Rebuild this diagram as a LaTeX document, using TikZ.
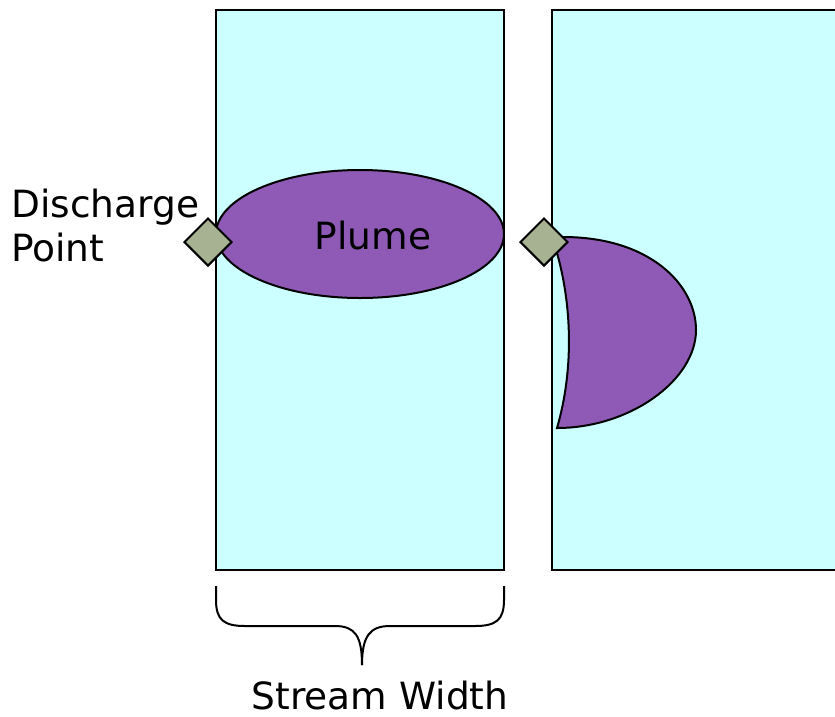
\documentclass[tikz,border=0pt]{standalone}
\usepackage{fontspec}
\setmainfont{DejaVu Sans}
\usetikzlibrary{shapes.geometric}
\definecolor{water}{RGB}{204,255,255}
\definecolor{plume}{RGB}{142,90,181}
\definecolor{outfall}{RGB}{166,178,145}
\tikzset{
  stream/.style={draw=black, fill=water, line width=2pt},
  plumeshape/.style={draw=black, fill=plume, line width=2pt},
  outlet/.style={shape=diamond, draw=black, fill=outfall, line width=2pt, minimum width=48pt, minimum height=48pt, inner sep=0pt},
  label/.style={font=\fontsize{37.5}{44}\selectfont, inner sep=0pt},
}
\begin{document}
\begin{tikzpicture}[x=1pt,y=-1pt]
\useasboundingbox (0,0) rectangle (835,716);
\clip (0,0) rectangle (835,716);
% streams
\draw[stream] (216,10) rectangle (504,570);
\draw[stream] (552,10) rectangle (845,570);
% left plume
\node[plumeshape, shape=ellipse, minimum width=288pt, minimum height=128pt, inner sep=0pt] (plumeL) at (360,234) {};
\node[label] (plumetext) at (373,236) {Plume};
% right plume
\draw[plumeshape] (553,240) -- (563,237)
  .. controls (650,237) and (696,285) .. (696,330)
  .. controls (696,380) and (630,428) .. (557,428)
  .. controls (574,370) and (573,300) .. (553,240) -- cycle;
% outlets
\node[outlet] (outL) at (208,242) {};
\node[outlet] (outR) at (544,242) {};
% discharge label
\node[label, anchor=base west, align=left] (discharge) at (11,261) {Discharge\\Point};
% brace
\draw[line width=2pt] (216,586) -- (216,600)
  .. controls (216,620) and (224,626) .. (245,626) -- (335,626)
  .. controls (355,626) and (362,636) .. (362,665);
\draw[line width=2pt] (504,586) -- (504,600)
  .. controls (504,620) and (496,626) .. (475,626) -- (390,626)
  .. controls (370,626) and (362,636) .. (362,665);
\coordinate (bracetip) at (362,665);
\node[label, anchor=base, text depth=0pt] (width) at (380,709) {Stream Width};
\end{tikzpicture}
\end{document}
